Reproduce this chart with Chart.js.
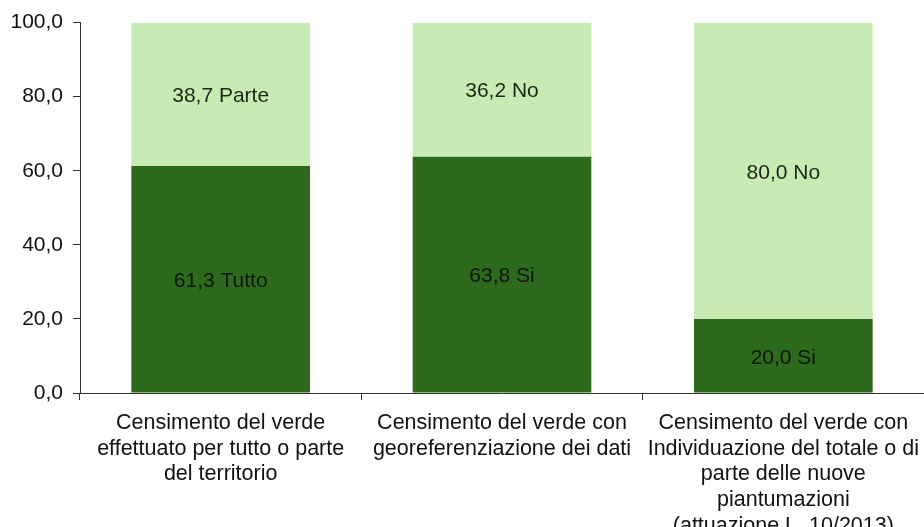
<!DOCTYPE html>
<html>
<head>
<meta charset="utf-8">
<script src="https://cdn.jsdelivr.net/npm/chart.js@4/dist/chart.umd.min.js"></script>
<style>
  html, body { margin: 0; padding: 0; background: #fff; }
  #wrap { width: 924px; height: 527px; }
</style>
</head>
<body>
<div id="wrap"><canvas id="chart"></canvas></div>
<script>
const categories = [
    ["Censimento del verde", "effettuato per tutto o parte", "del territorio"],
    ["Censimento del verde con", "georeferenziazione dei dati"],
    ["Censimento del verde con", "Individuazione del totale o di", "parte delle nuove", "piantumazioni", "(attuazione L. 10/2013)"]
];
const lowerValues = [61.3, 63.8, 20.0];
const upperValues = [38.7, 36.2, 80.0];
const lowerNames = ["Tutto", "Si", "Si"];
const upperNames = ["Parte", "No", "No"];
const yTicks = [0, 20, 40, 60, 80, 100];

const FONT = '"Liberation Sans", Arial, sans-serif';
const fmt = v => v.toFixed(1).replace('.', ',');

// draws "value name" in the middle of each segment
const segmentLabels = {
    id: 'segmentLabels',
    afterDatasetsDraw(chart) {
        const ctx = chart.ctx;
        ctx.save();
        ctx.font = '21px ' + FONT;
        ctx.textAlign = 'center';
        ctx.textBaseline = 'middle';
        chart.data.datasets.forEach((ds, di) => {
            chart.getDatasetMeta(di).data.forEach((bar, i) => {
                const y = (bar.y + bar.base) / 2;
                ctx.fillStyle = di === 0 ? '#0b1607' : '#1c2716';
                ctx.fillText(fmt(ds.data[i]) + ' ' + ds.names[i], bar.x, y + 2);
            });
        });
        ctx.restore();
    }
};

new Chart(document.getElementById('chart'), {
    type: 'bar',
    data: {
        labels: categories,
        datasets: [
            { data: lowerValues, names: lowerNames, backgroundColor: '#2e6a1e', borderWidth: 0,
              barPercentage: 0.635, categoryPercentage: 1.0 },
            { data: upperValues, names: upperNames, backgroundColor: '#c7ebb3', borderWidth: 0,
              barPercentage: 0.635, categoryPercentage: 1.0 }
        ]
    },
    options: {
        responsive: true,
        maintainAspectRatio: false,
        animation: false,
        layout: { padding: { top: 22, right: 0, left: 0, bottom: 0 } },
        scales: {
            x: {
                stacked: true,
                border: { display: true, color: '#333', width: 1 },
                grid: { offset: true, drawOnChartArea: false, drawTicks: true, tickLength: 7, color: '#333' },
                ticks: {
                    color: '#111', padding: 10, maxRotation: 0, autoSkip: false,
                    font: { family: FONT, size: 21.5, lineHeight: 1.2 }
                },
                afterFit(scale) {
                    scale.height = 134;
                    scale.paddingLeft = 0;
                    scale.paddingRight = 0;
                }
            },
            y: {
                stacked: true,
                min: 0, max: 100,
                afterBuildTicks(scale) { scale.ticks = yTicks.map(v => ({ value: v })); },
                border: { display: true, color: '#333', width: 1 },
                grid: { drawOnChartArea: false, drawTicks: true, tickLength: 7, color: '#333' },
                ticks: {
                    color: '#111', padding: 10,
                    callback: v => fmt(v),
                    font: { family: FONT, size: 21 }
                },
                afterFit(scale) { scale.width = 80; }
            }
        },
        plugins: { legend: { display: false }, tooltip: { enabled: false } }
    },
    plugins: [segmentLabels]
});
</script>
</body>
</html>
